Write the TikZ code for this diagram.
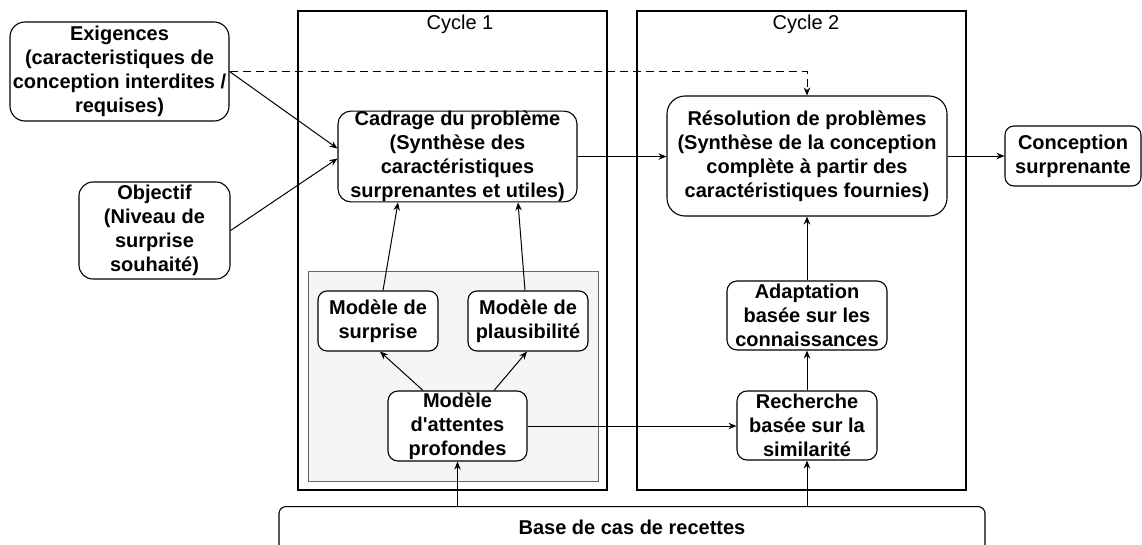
\documentclass[tikz,border=0pt]{standalone}
\usepackage{fontspec}
\setmainfont{Liberation Sans}[Ligatures=TeXOff]
\usetikzlibrary{arrows.meta}
\definecolor{grayfill}{HTML}{F5F5F5}
\definecolor{grayline}{HTML}{666666}
\tikzset{
  box/.style={draw=black, line width=1.1pt, fill=white, align=center, inner sep=0pt,
    font=\fontsize{20}{24}\selectfont\bfseries},
  cyc/.style={draw=black, line width=1.2pt, inner sep=0pt},
  cyclabel/.style={inner sep=0pt, font=\fontsize{20}{24}\selectfont},
  graybox/.style={draw=grayline, fill=grayfill, line width=1pt, inner sep=0pt},
  conn/.style={line width=1pt, -{Stealth[length=8pt,width=6.5pt]}},
  dashconn/.style={conn, dash pattern=on 8pt off 5pt}
}
\begin{document}
\begin{tikzpicture}[x=1pt,y=-1pt]
\useasboundingbox (0,0) rectangle (1142,544);

% containers
\node[cyc, minimum width=309pt, minimum height=479pt] (c1) at (452.5,250.5) {};
\node[cyclabel] (c1lab) at (460,24) {Cycle 1};
\node[cyc, minimum width=329pt, minimum height=479pt] (c2) at (801.5,250.5) {};
\node[cyclabel] (c2lab) at (806,24) {Cycle 2};
\node[graybox, minimum width=290pt, minimum height=210pt] (gray) at (453,376) {};

% boxes
\node[box, rounded corners=15pt, minimum width=219pt, minimum height=99pt] (ex) at (119.5,71.5)
  {Exigences\\(caracteristiques de\\conception interdites /\\requises)};
\node[box, rounded corners=14pt, minimum width=151pt, minimum height=97pt] (obj) at (154.5,230.5)
  {Objectif\\(Niveau de\\surprise\\souhaité)};
\node[box, rounded corners=13pt, minimum width=239pt, minimum height=89pt] (cad) at (457.5,156.5)
  {Cadrage du problème\\(Synthèse des\\caractéristiques\\surprenantes et utiles)};
\node[box, rounded corners=18pt, minimum width=280pt, minimum height=120pt] (res) at (807,156)
  {Résolution de problèmes\\(Synthèse de la conception\\complète à partir des\\caractéristiques fournies)};
\node[box, rounded corners=9pt, minimum width=136pt, minimum height=60pt] (con) at (1073,156)
  {Conception\\surprenante};
\node[box, rounded corners=9pt, minimum width=120pt, minimum height=60pt] (ms) at (378,321)
  {Modèle de\\surprise};
\node[box, rounded corners=9pt, minimum width=120pt, minimum height=60pt] (mp) at (528,321)
  {Modèle de\\plausibilité};
\node[box, rounded corners=10pt, minimum width=139pt, minimum height=70pt] (ma) at (457.5,426)
  {Modèle\\d'attentes\\profondes};
\node[box, rounded corners=10pt, minimum width=160pt, minimum height=69pt] (ad) at (807,315.5)
  {Adaptation\\basée sur les\\connaissances};
\node[box, rounded corners=10pt, minimum width=140pt, minimum height=69pt] (rc) at (807,425.5)
  {Recherche\\basée sur la\\similarité};

\begin{scope}
\clip (0,0) rectangle (1142,544);
\node[box, rounded corners=7pt, minimum width=706pt, minimum height=80pt, anchor=north] (base) at (632,506) {};
\end{scope}
\node[inner sep=0pt, font=\fontsize{20}{24}\selectfont\bfseries] (basetxt) at (632,527) {Base de cas de recettes};

% connectors
\draw[conn] (ex.east) -- ([yshift=8pt]cad.west);
\draw[conn] (obj.east) -- ([yshift=-2pt]cad.west);
\draw[dashconn] (ex.east) -| (res.north);
\draw[conn] (cad.east) -- (cad.east -| res.west);
\draw[conn] (res.east) -- (con.west);
\draw[conn] ([xshift=5pt]ms.north) -- ([xshift=-59.5pt]cad.south);
\draw[conn] ([xshift=-3pt]mp.north) -- ([xshift=60.5pt]cad.south);
\draw[conn] ([xshift=-34.5pt]ma.north) -- ([xshift=2pt]ms.south);
\draw[conn] ([xshift=36.5pt]ma.north) -- ([xshift=-1pt]mp.south);
\draw[conn] (ma.east) -- (ma.east -| rc.west);
\draw[conn] (ma.south |- base.north) -- (ma.south);
\draw[conn] (rc.south |- base.north) -- (rc.south);
\draw[conn] (rc.north) -- (ad.south);
\draw[conn] (ad.north) -- (res.south);
\end{tikzpicture}
\end{document}
